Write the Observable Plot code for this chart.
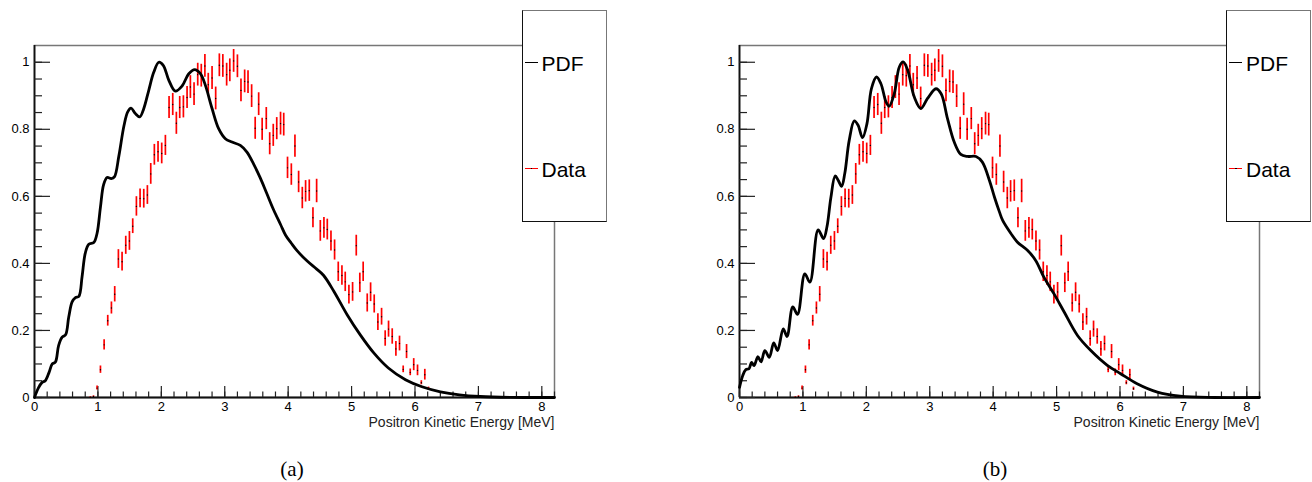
<!DOCTYPE html>
<html><head><meta charset="utf-8">
<script src="https://cdn.jsdelivr.net/npm/d3@7"></script>
<script src="https://cdn.jsdelivr.net/npm/@observablehq/plot@0.6"></script>
<style>
html,body{margin:0;padding:0;background:#fff;}
#wrap{position:relative;width:1312px;height:482px;overflow:hidden;font-family:"Liberation Sans",Arial,sans-serif;}
.panel{position:absolute;top:0;width:656px;height:482px;}
.panel svg{position:absolute;left:0;top:0;}
.legend{position:absolute;top:10px;height:212px;background:#fff;box-sizing:border-box;border-left:1.5px solid #111;border-bottom:1.5px solid #111;border-top:1.5px solid #777;border-right:1.5px solid #777;}
.lline{position:absolute;height:1.6px;width:13px;left:2px;}
.ltext{position:absolute;left:19px;font-size:21px;line-height:21px;color:#000;white-space:nowrap;}
.cap{position:absolute;top:459px;font-family:"Liberation Serif",serif;font-size:21px;line-height:21px;transform:translateX(-50%);}
</style></head>
<body>
<div id="wrap">
  <div class="panel" id="pa" style="left:0px"></div>
  <div class="panel" id="pb" style="left:656px"></div>
</div>
<script>
// ---- Data points (Positron kinetic energy [MeV], normalized counts, error) ----
const dataX = [0.88,0.93,0.987,1.04,1.098,1.155,1.213,1.265,1.323,1.381,1.439,1.497,1.549,1.607,1.665,1.723,1.78,1.833,1.89,1.948,2.006,2.064,2.122,2.18,2.237,2.29,2.348,2.406,2.458,2.516,2.574,2.63,2.687,2.74,2.80,2.857,2.915,2.97,3.03,3.08,3.14,3.2,3.256,3.314,3.367,3.424,3.48,3.535,3.59,3.655,3.709,3.765,3.82,3.88,3.93,3.99,4.05,4.107,4.165,4.223,4.275,4.333,4.391,4.449,4.507,4.564,4.617,4.675,4.732,4.79,4.848,4.9,4.958,5.016,5.074,5.13,5.183,5.247,5.3,5.357,5.415,5.473,5.53,5.583,5.641,5.699,5.756,5.814,5.867,5.925,5.98,6.04,6.1,6.155,6.213];
const dataY = [0.001,0.003,0.028,0.083,0.157,0.229,0.267,0.308,0.413,0.405,0.454,0.467,0.511,0.570,0.594,0.593,0.604,0.667,0.724,0.733,0.728,0.752,0.865,0.874,0.818,0.865,0.867,0.895,0.926,0.905,0.963,0.96,0.989,0.933,0.953,0.892,0.991,0.989,0.963,0.976,1.004,0.988,0.916,0.943,0.941,0.899,0.803,0.875,0.80,0.832,0.757,0.782,0.802,0.817,0.814,0.685,0.665,0.75,0.643,0.595,0.615,0.617,0.536,0.616,0.497,0.506,0.501,0.467,0.44,0.375,0.364,0.345,0.307,0.315,0.453,0.342,0.375,0.282,0.314,0.279,0.225,0.241,0.176,0.204,0.182,0.145,0.161,0.084,0.137,0.075,0.098,0.081,0.044,0.068,0.026];
const dataErr = [0.001,0.002,0.006,0.011,0.015,0.016,0.018,0.023,0.028,0.028,0.027,0.028,0.022,0.029,0.028,0.028,0.028,0.031,0.031,0.031,0.031,0.030,0.033,0.033,0.033,0.033,0.033,0.033,0.034,0.034,0.034,0.034,0.034,0.034,0.034,0.034,0.034,0.034,0.034,0.034,0.034,0.034,0.034,0.034,0.034,0.034,0.033,0.034,0.033,0.033,0.033,0.033,0.033,0.034,0.034,0.032,0.032,0.033,0.032,0.032,0.032,0.032,0.030,0.035,0.031,0.031,0.031,0.030,0.030,0.029,0.029,0.029,0.028,0.028,0.031,0.029,0.029,0.027,0.028,0.027,0.025,0.025,0.023,0.024,0.023,0.022,0.022,0.010,0.021,0.010,0.018,0.016,0.006,0.016,0.005];

// ---- PDF (a) ----
const pdfAX = [0,0.06,0.12,0.17,0.23,0.28,0.33,0.38,0.436,0.49,0.54,0.593,0.646,0.70,0.75,0.80,0.856,0.935,0.987,1.04,1.09,1.145,1.21,1.26,1.33,1.41,1.47,1.523,1.59,1.66,1.72,1.80,1.88,1.96,2.03,2.117,2.22,2.33,2.43,2.526,2.616,2.695,2.80,2.904,3.01,3.114,3.246,3.35,3.456,3.56,3.66,3.77,3.88,3.96,4.05,4.14,4.30,4.45,4.56,4.72,4.93,5.14,5.35,5.58,5.85,6.11,6.40,6.70,7.03,7.5,8.2];
const pdfAY = [0,0.028,0.045,0.05,0.075,0.1,0.106,0.155,0.18,0.187,0.24,0.285,0.298,0.302,0.36,0.43,0.457,0.462,0.49,0.568,0.635,0.656,0.653,0.658,0.72,0.81,0.852,0.863,0.847,0.837,0.86,0.915,0.97,1.0,0.991,0.947,0.914,0.93,0.965,0.978,0.966,0.931,0.862,0.802,0.772,0.762,0.752,0.732,0.696,0.655,0.61,0.56,0.516,0.484,0.46,0.438,0.407,0.383,0.364,0.317,0.247,0.186,0.133,0.088,0.053,0.032,0.017,0.008,0.003,0.0005,0];

// ---- PDF (b) ----
const pdfBX = [0,0.05,0.10,0.15,0.19,0.23,0.29,0.34,0.40,0.47,0.54,0.60,0.69,0.75,0.84,0.915,1.03,1.11,1.24,1.325,1.38,1.44,1.509,1.556,1.61,1.66,1.73,1.81,1.87,1.94,2.01,2.08,2.16,2.23,2.31,2.36,2.44,2.52,2.58,2.65,2.755,2.86,2.965,3.097,3.18,3.28,3.386,3.49,3.596,3.73,3.83,3.94,4.02,4.10,4.15,4.28,4.38,4.54,4.67,4.80,4.96,5.12,5.33,5.54,5.80,6.01,6.27,6.59,6.95,7.49,8.2];
const pdfBY = [0.03,0.065,0.083,0.086,0.105,0.095,0.122,0.106,0.14,0.12,0.163,0.14,0.205,0.182,0.27,0.248,0.369,0.344,0.50,0.474,0.51,0.595,0.661,0.648,0.63,0.668,0.767,0.825,0.812,0.775,0.817,0.921,0.956,0.936,0.882,0.869,0.906,0.986,1.001,0.978,0.897,0.862,0.892,0.921,0.906,0.832,0.762,0.725,0.719,0.719,0.702,0.648,0.598,0.553,0.528,0.489,0.464,0.439,0.409,0.359,0.309,0.255,0.185,0.14,0.096,0.071,0.041,0.016,0.004,0.0,0];

// ---- Axes ----
const xTicks = [0,1,2,3,4,5,6,7,8];
const yTicks = [0,0.2,0.4,0.6,0.8,1];
const xLabel = "Positron Kinetic Energy [MeV]";
const legendLabels = ["PDF", "Data"];
const captions = ["(a)", "(b)"];

const data = dataX.map((x, i) => ({x, y: dataY[i], e: dataErr[i]}));
const pdfA = pdfAX.map((x, i) => ({x, y: pdfAY[i]}));
const pdfB = pdfBX.map((x, i) => ({x, y: pdfBY[i]}));

const XMAX = 8.2, YMAX = 1.05;
const PW = 520, PH = 352;
const kx = XMAX / PW, ky = YMAX / PH;
const xMinor = d3.range(0, 8.2001, 0.2).map(v => +v.toFixed(2));
const yMinor = d3.range(0, 1.0001, 0.05).map(v => +v.toFixed(2));

function panel(pdf, marginLeft) {
  const width = 656, height = 440;
  return Plot.plot({
    width, height,
    marginLeft, marginRight: width - marginLeft - PW,
    marginTop: 45, marginBottom: height - 45 - PH,
    style: {fontFamily: "Liberation Sans, Arial, sans-serif", fontSize: "13px", background: "#fff", color: "#000"},
    x: {domain: [0, XMAX], ticks: xTicks, tickSize: 0, tickPadding: 4, tickFormat: d => String(d), label: null},
    y: {domain: [0, YMAX], ticks: yTicks, tickSize: 0, tickPadding: 5, tickFormat: d => String(d), label: null},
    marks: [
      Plot.frame({stroke: "#777", strokeWidth: 1.5}),
      Plot.ruleY([0], {stroke: "#111", strokeWidth: 1.8}),
      Plot.ruleX([0], {stroke: "#111", strokeWidth: 1.8}),
      Plot.ruleY(yMinor, {y: d => d, x1: 0, x2: 8 * kx, stroke: "#222", strokeWidth: 1.2}),
      Plot.ruleY(yTicks, {y: d => d, x1: 0, x2: 16 * kx, stroke: "#222", strokeWidth: 1.2}),
      Plot.ruleX(xMinor, {x: d => d, y1: 0, y2: 5.5 * ky, stroke: "#222", strokeWidth: 1.2}),
      Plot.ruleX(xTicks, {x: d => d, y1: 0, y2: 11 * ky, stroke: "#222", strokeWidth: 1.2}),
      Plot.ruleX(data, {x: "x", y1: d => Math.max(0, d.y - d.e), y2: d => d.y + d.e, stroke: "#ff0000", strokeWidth: 1.7}),
      Plot.dot(data, {x: "x", y: "y", r: 0.7, fill: "#000", stroke: null}),
      Plot.line(pdf, {x: "x", y: "y", stroke: "#000", strokeWidth: 2.8, curve: "catmull-rom"}),
      Plot.text([xLabel], {frameAnchor: "bottom-right", textAnchor: "end", lineAnchor: "bottom", dy: 29.5, fontSize: 14, fill: "#222"})
    ]
  });
}

function legend(parent, left) {
  const box = document.createElement("div");
  box.className = "legend";
  box.style.left = left + "px";
  box.style.width = "85px";
  const items = [
    {label: legendLabels[0], color: "#000", lineTop: 50.5, textTop: 41.5},
    {label: legendLabels[1], color: "#ff0000", lineTop: 156.5, textTop: 147.5}
  ];
  items.forEach(it => {
    const l = document.createElement("div");
    l.className = "lline";
    l.style.top = it.lineTop + "px";
    l.style.background = it.color;
    box.appendChild(l);
    if (it.color !== "#000") {
      const dot = document.createElement("div");
      dot.style.cssText = `position:absolute;left:8px;top:${it.lineTop}px;width:1.5px;height:1.6px;background:#000;`;
      box.appendChild(dot);
    }
    const t = document.createElement("div");
    t.className = "ltext";
    t.style.top = it.textTop + "px";
    t.textContent = it.label;
    box.appendChild(t);
  });
  parent.appendChild(box);
}

function caption(parent, cx, text) {
  const c = document.createElement("div");
  c.className = "cap";
  c.style.left = cx + "px";
  c.textContent = text;
  parent.appendChild(c);
}

const pa = document.getElementById("pa");
const pb = document.getElementById("pb");
pa.appendChild(panel(pdfA, 34));
pb.appendChild(panel(pdfB, 83));
legend(pa, 521.5);
legend(pb, 570);
caption(pa, 292, captions[0]);
caption(pb, 339, captions[1]);
</script>
</body></html>
